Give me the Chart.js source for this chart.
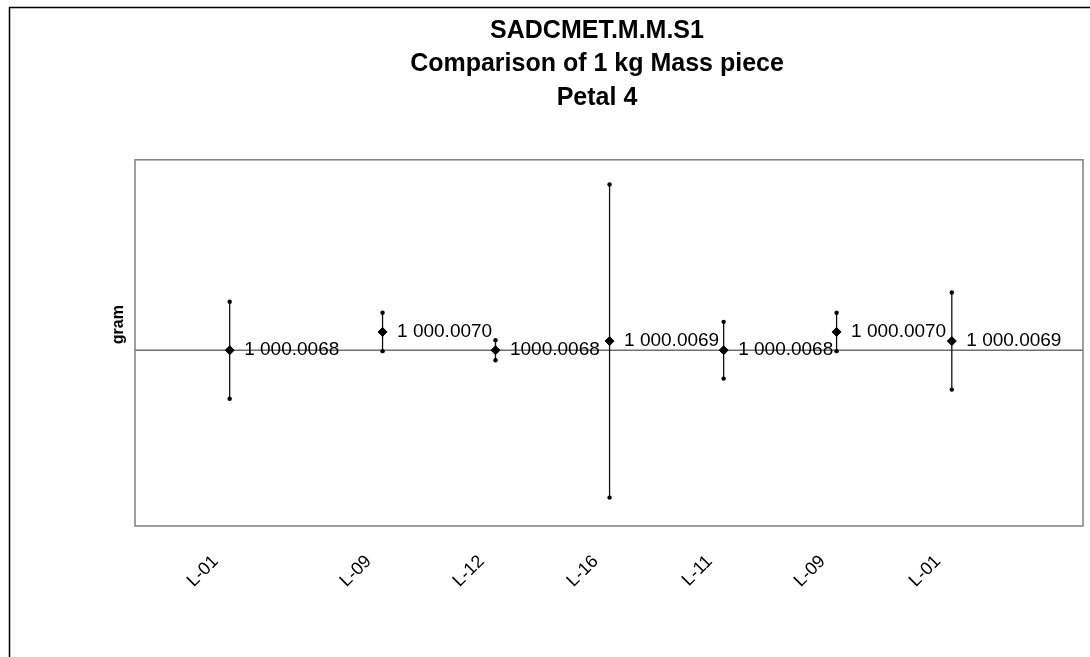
<!DOCTYPE html>
<html>
<head>
<meta charset="utf-8">
<title>SADCMET.M.M.S1 – Petal 4</title>
<script src="https://cdn.jsdelivr.net/npm/chart.js@4/dist/chart.umd.min.js"></script>
<style>
  html, body { margin: 0; padding: 0; background: #fff; }
  canvas { display: block; }
</style>
</head>
<body>
<canvas id="petal" width="1090" height="657"></canvas>
<script>
// Chart text
const titleLines = ['SADCMET.M.M.S1', 'Comparison of 1 kg Mass piece', 'Petal 4'];
const yTitle = 'gram';

// Laboratories in measurement order and their position along the run axis
const labs = ['L-01', 'L-09', 'L-12', 'L-16', 'L-11', 'L-09', 'L-01'];
const runOrder = [0.83, 2.17, 3.16, 4.16, 5.16, 6.15, 7.16];

// Reported mass (g), expanded uncertainty (g) and the printed value labels
const mass = [1000.0068, 1000.0070, 1000.0068, 1000.0069, 1000.0068, 1000.0070, 1000.0069];
const uncert = [0.00053, 0.00021, 0.00011, 0.00171, 0.00031, 0.00021, 0.00053];
const massText = ['1 000.0068', '1 000.0070', '1000.0068', '1 000.0069', '1 000.0068', '1 000.0070', '1 000.0069'];

// Reference value (axis crossing) and axis ranges
const refMass = 1000.0068;
const xRange = [0, 8.31];
const yRange = [1000.00488, 1000.00888];

const FONT = "'Liberation Sans', Arial, Helvetica, sans-serif";

// Outer chart border and plot-area frame
const framePlugin = {
  id: 'frame',
  beforeDraw(chart) {
    const { ctx } = chart;
    ctx.save();
    ctx.fillStyle = '#fff';
    ctx.fillRect(0, 0, chart.width, chart.height);
    ctx.strokeStyle = '#000';
    ctx.lineWidth = 1.5;
    ctx.beginPath();
    ctx.moveTo(9.5, chart.height);
    ctx.lineTo(9.5, 7.5);
    ctx.lineTo(chart.width, 7.5);
    ctx.stroke();
    ctx.restore();
  },
  afterDraw(chart) {
    const { ctx, chartArea: a } = chart;
    ctx.save();
    ctx.strokeStyle = '#808080';
    ctx.lineWidth = 1.5;
    ctx.strokeRect(a.left, a.top, a.right - a.left, a.bottom - a.top);
    ctx.restore();
  }
};

// Rotated "gram" axis title placed just left of the plot frame
const yTitlePlugin = {
  id: 'yTitle',
  afterDraw(chart) {
    const { ctx, chartArea: a } = chart;
    ctx.save();
    ctx.translate(a.left - 16, a.top + (a.bottom - a.top) * 0.45);
    ctx.rotate(-Math.PI / 2);
    ctx.font = 'bold 16px ' + FONT;
    ctx.fillStyle = '#000';
    ctx.textAlign = 'center';
    ctx.textBaseline = 'middle';
    ctx.fillText(yTitle, 0, 0);
    ctx.restore();
  }
};

// Value labels to the right of each mass marker
const valueLabelPlugin = {
  id: 'valueLabels',
  afterDatasetsDraw(chart) {
    const meta = chart.getDatasetMeta(0);
    const { ctx } = chart;
    ctx.save();
    ctx.font = '19px ' + FONT;
    ctx.fillStyle = '#000';
    ctx.textAlign = 'left';
    ctx.textBaseline = 'middle';
    meta.data.forEach((el, i) => {
      ctx.fillText(massText[i], el.x + 14.5, el.y);
    });
    ctx.restore();
  }
};

new Chart(document.getElementById('petal'), {
  type: 'scatter',
  data: {
    datasets: [
      {
        label: 'Mass',
        data: runOrder.map((x, i) => ({ x, y: mass[i] })),
        pointStyle: 'rectRot',
        pointRadius: 4.5,
        backgroundColor: '#000',
        borderColor: '#000',
        borderWidth: 1,
        showLine: false
      },
      {
        label: 'Uncertainty',
        data: runOrder.flatMap((x, i) => [
          { x, y: mass[i] - uncert[i] },
          { x, y: mass[i] + uncert[i] },
          { x, y: null }
        ]),
        showLine: true,
        spanGaps: false,
        borderColor: '#111',
        borderWidth: 1.3,
        pointRadius: 2.2,
        pointBackgroundColor: '#000',
        pointBorderWidth: 0
      },
      {
        label: 'Reference',
        data: [{ x: xRange[0], y: refMass }, { x: xRange[1], y: refMass }],
        showLine: true,
        borderColor: '#707070',
        borderWidth: 1.5,
        pointRadius: 0
      }
    ]
  },
  options: {
    responsive: false,
    animation: false,
    devicePixelRatio: 1,
    layout: { padding: { left: 111, right: 7, top: 0, bottom: 0 } },
    plugins: {
      legend: { display: false },
      tooltip: { enabled: false },
      title: {
        display: true,
        text: titleLines,
        color: '#000',
        font: { family: FONT, size: 25, weight: 'bold', lineHeight: 1.344 },
        padding: { top: 14, bottom: 45 }
      }
    },
    scales: {
      x: {
        type: 'linear',
        min: xRange[0],
        max: xRange[1],
        afterBuildTicks: (scale) => { scale.ticks = runOrder.map(v => ({ value: v })); },
        afterFit: (scale) => { scale.height = 131; },
        grid: { display: false, drawTicks: false },
        border: { display: false },
        ticks: {
          autoSkip: false,
          minRotation: 45,
          maxRotation: 45,
          padding: 25,
          labelOffset: -14,
          color: '#000',
          font: { family: FONT, size: 18 },
          callback: (value, index) => labs[index]
        }
      },
      y: {
        type: 'linear',
        min: yRange[0],
        max: yRange[1],
        afterFit: (scale) => { scale.width = 24; },
        grid: { display: false, drawTicks: false },
        border: { display: false },
        ticks: { display: false }
      }
    }
  },
  plugins: [framePlugin, yTitlePlugin, valueLabelPlugin]
});
</script>
</body>
</html>
